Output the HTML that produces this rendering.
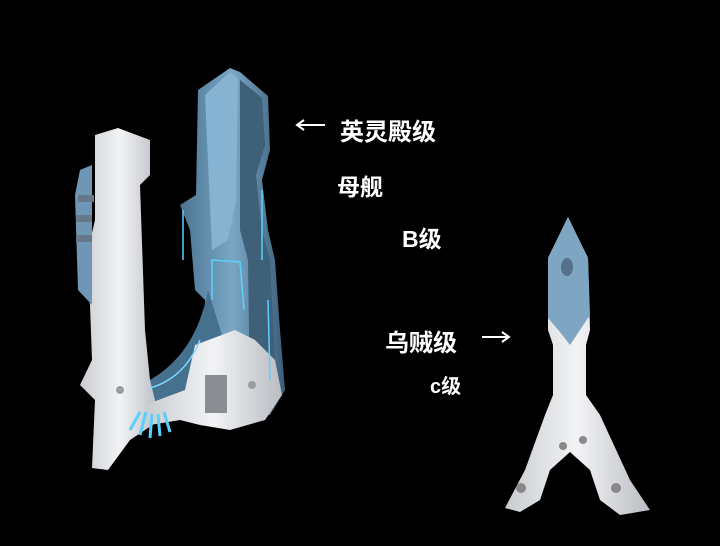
<!DOCTYPE html>
<html><head><meta charset="utf-8"><style>
html,body{margin:0;padding:0;background:#000;}
.t{position:absolute;color:#fff;font-family:"Liberation Sans","Noto Sans CJK SC",sans-serif;font-weight:bold;white-space:nowrap;}
</style></head><body>
<div style="position:relative;width:720px;height:546px;overflow:hidden;background:#000">
<svg width="720" height="546" style="position:absolute;left:0;top:0">
<defs>
<linearGradient id="bl" x1="0" x2="1"><stop offset="0" stop-color="#4a7390"/><stop offset=".5" stop-color="#7aa7c6"/><stop offset="1" stop-color="#3c5d77"/></linearGradient>
<linearGradient id="wh" x1="0" x2="1"><stop offset="0" stop-color="#c9ccd0"/><stop offset=".5" stop-color="#f2f3f5"/><stop offset="1" stop-color="#b9bcc2"/></linearGradient>
</defs>
<path d="M198,90 L230,68 L240,72 L268,96 L270,150 L262,180 L268,230 L275,260 L280,330 L285,390 L270,415 L230,420 L205,410 L205,300 L195,290 L190,230 L180,205 L196,195 Z" fill="url(#bl)"/>
<path d="M205,95 L230,72 L238,78 L236,200 L228,240 L212,250 Z" fill="#86b3d2"/>
<path d="M240,80 L262,98 L265,145 L256,175 L262,230 L270,260 L276,380 L262,408 L250,400 L248,260 L240,230 Z" fill="#3e6078"/>
<path d="M208,290 Q195,360 140,385 L140,420 Q200,410 225,345 Z" fill="#45708e"/>
<path d="M150,405 Q195,398 212,355" stroke="#5ad0ff" stroke-width="2" fill="none"/>
<path d="M95,135 L118,128 L150,140 L150,175 L140,185 L145,330 L150,380 L160,420 L130,440 L108,470 L92,468 L95,400 L80,385 L92,360 L88,250 L95,220 Z" fill="url(#wh)"/>
<path d="M92,165 L80,170 L75,195 L78,290 L92,305 Z" fill="#6f97b5"/>
<rect x="78" y="195" width="16" height="7" fill="#66788a"/>
<rect x="76" y="215" width="16" height="7" fill="#66788a"/>
<rect x="76" y="235" width="16" height="7" fill="#66788a"/>
<path d="M145,405 L185,390 L195,345 L235,330 L255,340 L275,360 L282,395 L265,420 L230,430 L200,425 L180,420 L150,425 Z" fill="url(#wh)"/>
<rect x="205" y="375" width="22" height="38" fill="#8a8d92"/>
<circle cx="252" cy="385" r="4" fill="#9a9ea4"/>
<circle cx="120" cy="390" r="4" fill="#9a9ea4"/>
<path d="M130,430 L140,412 M140,435 L146,412 M150,438 L152,414 M160,436 L158,414 M170,432 L164,412" stroke="#5ad0ff" stroke-width="3"/>
<path d="M183,210 L183,260 M262,190 L262,260 M212,300 L212,260 L240,262 L244,310 M268,300 L270,380" stroke="#5ad0ff" stroke-width="1.5" fill="none"/>
<path d="M150,388 Q185,378 200,340" stroke="#7fd8ff" stroke-width="1.5" fill="none"/>
<path d="M568,217 L588,258 L590,330 L586,345 L586,395 L600,415 L630,480 L650,510 L620,515 L600,500 L590,470 L570,452 L550,470 L540,500 L520,512 L505,508 L525,470 L545,415 L553,395 L553,345 L548,330 L548,258 Z" fill="url(#wh)"/>
<path d="M568,217 L588,258 L590,315 L580,330 L570,345 L560,332 L548,318 L548,258 Z" fill="#7ea5c2"/>
<ellipse cx="567" cy="267" rx="6" ry="9" fill="#55708a"/>
<circle cx="563" cy="446" r="4" fill="#888"/><circle cx="583" cy="440" r="4" fill="#888"/>
<circle cx="521" cy="488" r="5" fill="#888"/><circle cx="616" cy="488" r="5" fill="#888"/>
<path d="M325,125 L298,125 M304,120 L297,125 L304,130" stroke="#fff" stroke-width="2" fill="none"/>
<path d="M482,337 L508,337 M502,332 L509,337 L502,342" stroke="#fff" stroke-width="2" fill="none"/>
</svg>
<div class="t" style="left:340px;top:112px;font-size:24px;">英灵殿级</div>
<div class="t" style="left:337px;top:168px;font-size:23px;">母舰</div>
<div class="t" style="left:402px;top:220px;font-size:23px;">B级</div>
<div class="t" style="left:385px;top:323px;font-size:24px;">乌贼级</div>
<div class="t" style="left:430px;top:370px;font-size:20px;">c级</div>
</div>
</body></html>
